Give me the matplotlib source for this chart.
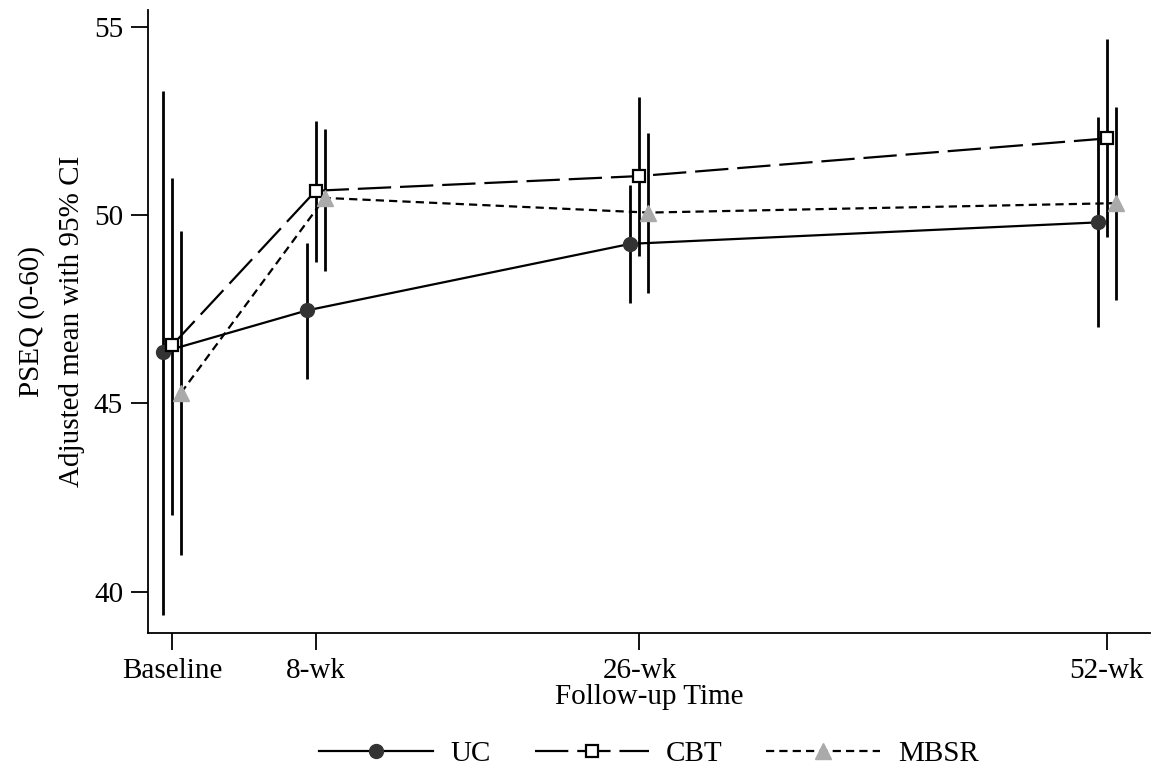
import numpy as np
import matplotlib
matplotlib.use("Agg")
import matplotlib.pyplot as plt

plt.rcParams['font.family'] = ['Liberation Serif', 'DejaVu Serif']

weeks = [0, 8, 26, 52]
tick_labels = ['Baseline', '8-wk', '26-wk', '52-wk']

uc_mean = [46.37, 47.47, 49.24, 49.81]
uc_lo = [39.39, 45.65, 47.66, 47.04]
uc_hi = [53.31, 49.26, 50.81, 52.60]

cbt_mean = [46.54, 50.65, 51.04, 52.04]
cbt_lo = [42.03, 48.77, 48.92, 49.43]
cbt_hi = [51.00, 52.51, 53.15, 54.68]

mbsr_mean = [45.28, 50.46, 50.07, 50.32]
mbsr_lo = [40.97, 48.53, 47.93, 47.75]
mbsr_hi = [49.59, 52.29, 52.18, 52.88]


def plot_group(ax, shift, mean, lo, hi, **style):
    x = np.array(weeks) + shift
    ax.vlines(x, lo, hi, color='black', lw=2.0, zorder=2)
    line, = ax.plot(x, mean, color='black', lw=1.6, zorder=3, **style)
    return line


fig = plt.figure(figsize=(11.63, 7.73), dpi=100)
ax = fig.add_axes([0.1273, 0.181, 0.8615, 0.806])

h1 = plot_group(ax, -0.5, uc_mean, uc_lo, uc_hi, linestyle='-',
                marker='o', markersize=10, markerfacecolor='#333333',
                markeredgecolor='#333333')
h2 = plot_group(ax, 0.0, cbt_mean, cbt_lo, cbt_hi, linestyle=(0, (15, 4)),
                marker='s', markersize=9, markerfacecolor='white',
                markeredgecolor='black', markeredgewidth=1.6)
h3 = plot_group(ax, 0.5, mbsr_mean, mbsr_lo, mbsr_hi, linestyle=(0, (3.7, 2.3)),
                marker='^', markersize=11, markerfacecolor='#aaaaaa',
                markeredgecolor='#aaaaaa')

ax.set_xlim(-1.33, 54.4)
ax.set_ylim(38.9, 55.45)
ax.set_xticks(weeks)
ax.set_xticklabels(tick_labels)
ax.set_yticks([40, 45, 50, 55])
ax.tick_params(labelsize=21, length=12, width=1.3, pad=6)
for side in ['top', 'right']:
    ax.spines[side].set_visible(False)
for side in ['left', 'bottom']:
    ax.spines[side].set_linewidth(1.3)

ax.set_xlabel('Follow-up Time', fontsize=21, labelpad=0)
ax.set_ylabel('PSEQ (0-60)\nAdjusted mean with 95% CI', fontsize=21,
              labelpad=6, linespacing=1.7)

fig.legend([h1, h2, h3], ['UC', 'CBT', 'MBSR'], loc='center',
           bbox_to_anchor=(0.558, 0.025), ncol=3, frameon=False, fontsize=21,
           handlelength=3.9, columnspacing=1.5, handletextpad=0.6)

fig.savefig('out.png', dpi=100)
